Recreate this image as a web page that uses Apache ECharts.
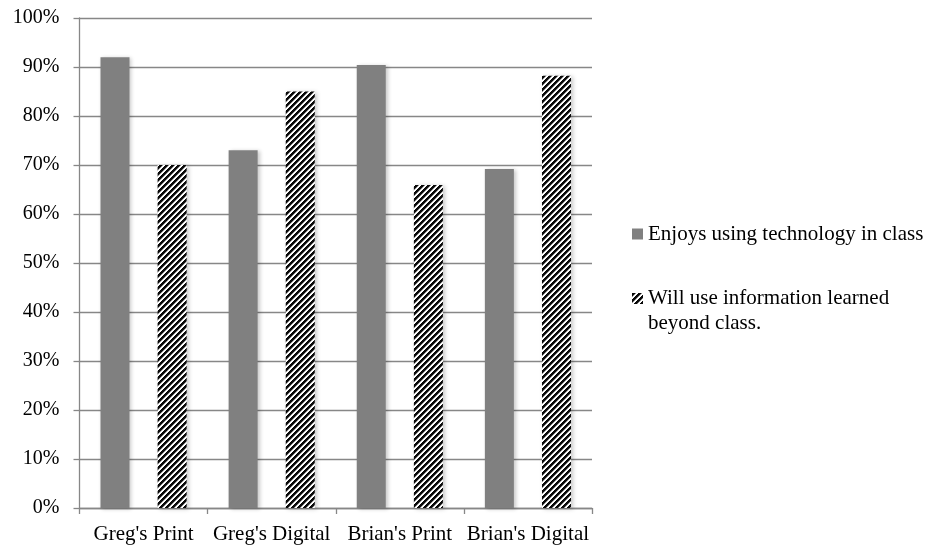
<!DOCTYPE html>
<html>
<head>
<meta charset="utf-8">
<script src="https://cdn.jsdelivr.net/npm/echarts@6/dist/echarts.min.js"></script>
<style>
  html, body { margin: 0; padding: 0; background: #fff; }
  #chart { width: 931px; height: 548px; }
</style>
</head>
<body>
<div id="chart"></div>
<script>
// Survey results by class section (percent of students)
const categories = ["Greg's Print", "Greg's Digital", "Brian's Print", "Brian's Digital"];
const enjoysTech = [92, 73, 90.4, 69.2];
const willUseInfo = [70, 85, 65.9, 88.2];
const seriesNames = ['Enjoys using technology in class', 'Will use information learned beyond class.'];
const yTicks = { min: 0, max: 100, step: 10 };

// Diagonal black/white hatch tile for the second series
function makeHatch(size) {
  const c = document.createElement('canvas');
  c.width = size; c.height = size;
  const ctx = c.getContext('2d');
  const img = ctx.createImageData(size, size);
  for (let y = 0; y < size; y++) {
    for (let x = 0; x < size; x++) {
      const d = (x + y) % size;
      let v;
      if (d < 3) v = 10;
      else if (d === 3) v = 140;
      else v = 255;
      const i = (y * size + x) * 4;
      img.data[i] = v; img.data[i + 1] = v; img.data[i + 2] = v; img.data[i + 3] = 255;
    }
  }
  ctx.putImageData(img, 0, 0);
  return c;
}
const hatch = { image: makeHatch(6), repeat: 'repeat' };

const font = 'Liberation Serif';
const axisGrey = '#878787';

const chart = echarts.init(document.getElementById('chart'), null, { renderer: 'canvas' });
chart.setOption({
  animation: false,
  backgroundColor: '#fff',
  grid: { left: 79.5, right: 339, top: 18, bottom: 40, containLabel: false },
  xAxis: {
    type: 'category',
    data: categories,
    axisLine: { show: true, lineStyle: { color: axisGrey, width: 1.3 } },
    axisTick: { show: true, length: 6, lineStyle: { color: axisGrey, width: 1.3 } },
    axisLabel: { fontFamily: font, fontSize: 21, color: '#000', margin: 16, interval: 0 }
  },
  yAxis: {
    type: 'value',
    min: yTicks.min,
    max: yTicks.max,
    interval: yTicks.step,
    axisLine: { show: true, lineStyle: { color: axisGrey, width: 1.3 } },
    axisTick: { show: true, length: 6, lineStyle: { color: axisGrey, width: 1.3 } },
    splitLine: { show: true, lineStyle: { color: axisGrey, width: 1.3 } },
    axisLabel: { fontFamily: font, fontSize: 20, color: '#000', margin: 20, formatter: '{value}%' }
  },
  legend: [
    {
      data: [seriesNames[0]],
      orient: 'vertical',
      left: 632, top: 221.5, padding: 0,
      itemWidth: 11, itemHeight: 11,
      icon: 'rect',
      selectedMode: false,
      itemStyle: { shadowBlur: 0, shadowOffsetX: 0, shadowOffsetY: 0 },
      textStyle: { fontFamily: font, fontSize: 21, color: '#000', lineHeight: 25 }
    },
    {
      data: [seriesNames[1]],
      orient: 'vertical',
      left: 632, top: 261, padding: 0,
      itemWidth: 11, itemHeight: 11,
      icon: 'rect',
      selectedMode: false,
      itemStyle: { shadowBlur: 0, shadowOffsetX: 0, shadowOffsetY: 0 },
      formatter: function () { return ' \nWill use information learned\nbeyond class.'; },
      textStyle: { fontFamily: font, fontSize: 21, color: '#000', lineHeight: 25 }
    }
  ],
  series: [
    {
      name: seriesNames[0],
      type: 'bar',
      data: enjoysTech,
      barWidth: 29,
      barGap: '97%',
      itemStyle: {
        color: '#808080',
        shadowColor: 'rgba(0,0,0,0.22)', shadowBlur: 4, shadowOffsetX: 2, shadowOffsetY: 1
      }
    },
    {
      name: seriesNames[1],
      type: 'bar',
      data: willUseInfo,
      barWidth: 29,
      barGap: '97%',
      itemStyle: {
        color: hatch,
        shadowColor: 'rgba(0,0,0,0.22)', shadowBlur: 4, shadowOffsetX: 2, shadowOffsetY: 1
      }
    }
  ]
});
</script>
</body>
</html>
